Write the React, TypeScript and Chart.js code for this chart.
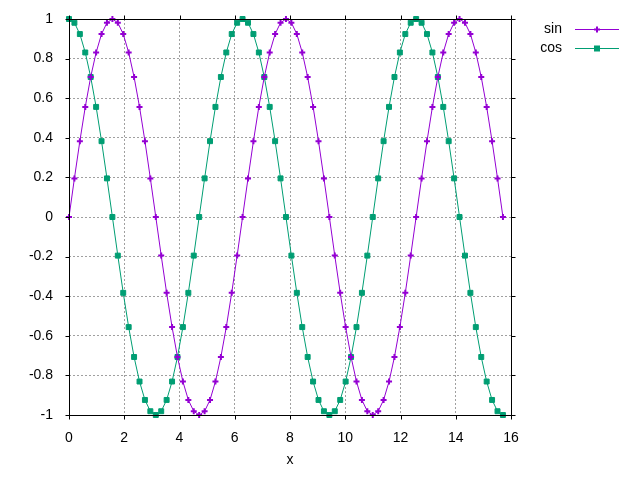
import React, { useEffect, useRef } from "react";
import { Chart, registerables } from "chart.js";

Chart.register(...registerables);

// x = k * pi/16, k = 0..80
const xValues = [
  0, 0.196, 0.393, 0.589, 0.785, 0.982, 1.178, 1.374, 1.571, 1.767,
  1.963, 2.16, 2.356, 2.553, 2.749, 2.945, 3.142, 3.338, 3.534, 3.731,
  3.927, 4.123, 4.32, 4.516, 4.712, 4.909, 5.105, 5.301, 5.498, 5.694,
  5.89, 6.087, 6.283, 6.48, 6.676, 6.872, 7.069, 7.265, 7.461, 7.658,
  7.854, 8.05, 8.247, 8.443, 8.639, 8.836, 9.032, 9.228, 9.425, 9.621,
  9.817, 10.014, 10.21, 10.407, 10.603, 10.799, 10.996, 11.192, 11.388, 11.585,
  11.781, 11.977, 12.174, 12.37, 12.566, 12.763, 12.959, 13.155, 13.352, 13.548,
  13.744, 13.941, 14.137, 14.334, 14.53, 14.726, 14.923, 15.119, 15.315, 15.512,
  15.708,
];

const sinValues = [
  0, 0.195, 0.383, 0.556, 0.707, 0.831, 0.924, 0.981, 1, 0.981,
  0.924, 0.831, 0.707, 0.556, 0.383, 0.195, 0, -0.195, -0.383, -0.556,
  -0.707, -0.831, -0.924, -0.981, -1, -0.981, -0.924, -0.831, -0.707, -0.556,
  -0.383, -0.195, 0, 0.195, 0.383, 0.556, 0.707, 0.831, 0.924, 0.981,
  1, 0.981, 0.924, 0.831, 0.707, 0.556, 0.383, 0.195, 0, -0.195,
  -0.383, -0.556, -0.707, -0.831, -0.924, -0.981, -1, -0.981, -0.924, -0.831,
  -0.707, -0.556, -0.383, -0.195, 0, 0.195, 0.383, 0.556, 0.707, 0.831,
  0.924, 0.981, 1, 0.981, 0.924, 0.831, 0.707, 0.556, 0.383, 0.195,
  0,
];

const cosValues = [
  1, 0.981, 0.924, 0.831, 0.707, 0.556, 0.383, 0.195, 0, -0.195,
  -0.383, -0.556, -0.707, -0.831, -0.924, -0.981, -1, -0.981, -0.924, -0.831,
  -0.707, -0.556, -0.383, -0.195, 0, 0.195, 0.383, 0.556, 0.707, 0.831,
  0.924, 0.981, 1, 0.981, 0.924, 0.831, 0.707, 0.556, 0.383, 0.195,
  0, -0.195, -0.383, -0.556, -0.707, -0.831, -0.924, -0.981, -1, -0.981,
  -0.924, -0.831, -0.707, -0.556, -0.383, -0.195, 0, 0.195, 0.383, 0.556,
  0.707, 0.831, 0.924, 0.981, 1, 0.981, 0.924, 0.831, 0.707, 0.556,
  0.383, 0.195, 0, -0.195, -0.383, -0.556, -0.707, -0.831, -0.924, -0.981,
  -1,
];

const seriesNames = ["sin", "cos"];
const seriesColors = ["#9400d3", "#009e73"];
const xAxisLabel = "x";
const xRange = [0, 16];
const yRange = [-1, 1];
const xStep = 2;
const yStep = 0.2;

const FONT = "'Liberation Sans', Arial, sans-serif";
const FONT_SIZE = 14;

const framePlugin = {
  id: "gnuplotFrame",
  afterDraw(chart: any) {
    const ctx = chart.ctx as CanvasRenderingContext2D;
    const a = chart.chartArea;
    const xs = chart.scales.x;
    const ys = chart.scales.y;
    ctx.save();
    ctx.strokeStyle = "#000";
    ctx.lineWidth = 1;
    ctx.setLineDash([]);
    ctx.strokeRect(a.left + 0.5, a.top + 0.5, a.right - a.left, a.bottom - a.top);
    const T = 4;
    ctx.beginPath();
    xs.ticks.forEach((t: any) => {
      const px = Math.round(xs.getPixelForValue(t.value)) + 0.5;
      ctx.moveTo(px, a.bottom + 0.5);
      ctx.lineTo(px, a.bottom + 0.5 + T);
      ctx.moveTo(px, a.top + 0.5);
      ctx.lineTo(px, a.top + 0.5 - T);
    });
    ys.ticks.forEach((t: any) => {
      const py = Math.round(ys.getPixelForValue(t.value)) + 0.5;
      ctx.moveTo(a.left + 0.5, py);
      ctx.lineTo(a.left + 0.5 - T, py);
      ctx.moveTo(a.right + 0.5, py);
      ctx.lineTo(a.right + 0.5 + T, py);
    });
    ctx.stroke();

    // x axis label
    ctx.fillStyle = "#000";
    ctx.font = `${FONT_SIZE}px ${FONT}`;
    ctx.textAlign = "center";
    ctx.textBaseline = "alphabetic";
    ctx.fillText(xAxisLabel, (a.left + a.right) / 2, 464);

    // legend
    const rows = [29, 48];
    seriesNames.forEach((name, i) => {
      const y = rows[i];
      ctx.fillStyle = "#000";
      ctx.textAlign = "right";
      ctx.textBaseline = "middle";
      ctx.fillText(name, 562, y);
      ctx.strokeStyle = seriesColors[i];
      ctx.lineWidth = 1;
      ctx.beginPath();
      ctx.moveTo(575, y + 0.5);
      ctx.lineTo(619, y + 0.5);
      ctx.stroke();
      ctx.fillStyle = seriesColors[i];
      const cx = 597;
      if (i === 0) {
        ctx.lineWidth = 2;
        ctx.beginPath();
        ctx.moveTo(cx - 3, y + 0.5);
        ctx.lineTo(cx + 3, y + 0.5);
        ctx.moveTo(cx, y - 2.5);
        ctx.lineTo(cx, y + 3.5);
        ctx.stroke();
      } else {
        ctx.fillRect(cx - 3, y - 2.5, 6, 6);
      }
    });
    ctx.restore();
  },
};

export default function App() {
  const ref = useRef<HTMLCanvasElement | null>(null);

  useEffect(() => {
    if (!ref.current) return;
    const sinData = xValues.map((x, i) => ({ x, y: sinValues[i] }));
    const cosData = xValues.map((x, i) => ({ x, y: cosValues[i] }));
    const chart = new Chart(ref.current, {
      type: "scatter",
      data: {
        datasets: [
          {
            label: seriesNames[0],
            data: sinData,
            showLine: true,
            clip: false,
            borderColor: seriesColors[0],
            backgroundColor: seriesColors[0],
            borderWidth: 1,
            pointStyle: "cross",
            pointRadius: 3,
            pointBorderWidth: 2,
            pointBorderColor: seriesColors[0],
          },
          {
            label: seriesNames[1],
            data: cosData,
            showLine: true,
            clip: false,
            borderColor: seriesColors[1],
            backgroundColor: seriesColors[1],
            borderWidth: 1,
            pointStyle: "rect",
            pointRadius: 3.5,
            pointBorderWidth: 1,
            pointBorderColor: seriesColors[1],
          },
        ],
      },
      options: {
        animation: false,
        responsive: false,
        devicePixelRatio: 1,
        layout: { padding: { top: 19, right: 129, left: 0, bottom: 0 } },
        plugins: {
          legend: { display: false },
          tooltip: { enabled: false },
        },
        scales: {
          x: {
            type: "linear",
            min: xRange[0],
            max: xRange[1],
            afterFit: (s: any) => {
              s.height = 65;
            },
            ticks: {
              stepSize: xStep,
              color: "#000",
              padding: 0,
              font: { family: FONT, size: FONT_SIZE },
              maxRotation: 0,
            },
            grid: {
              color: "#a0a0a0",
              lineWidth: 1,
              drawTicks: true,
              tickLength: 15,
              tickColor: "rgba(0,0,0,0)",
            },
            border: { display: false, dash: [2, 2] },
          },
          y: {
            type: "linear",
            min: yRange[0],
            max: yRange[1],
            afterFit: (s: any) => {
              s.width = 69;
            },
            ticks: {
              stepSize: yStep,
              color: "#000",
              padding: 0,
              font: { family: FONT, size: FONT_SIZE },
              callback: (v: any) => String(Math.round(Number(v) * 10) / 10),
            },
            grid: {
              color: "#a0a0a0",
              lineWidth: 1,
              drawTicks: true,
              tickLength: 16,
              tickColor: "rgba(0,0,0,0)",
            },
            border: { display: false, dash: [2, 2] },
          },
        },
      },
      plugins: [framePlugin],
    });
    return () => chart.destroy();
  }, []);

  return (
    <div style={{ position: "absolute", left: 0, top: 0, width: 640, height: 480, background: "#fff" }}>
      <canvas ref={ref} width={640} height={480} style={{ width: 640, height: 480 }} />
    </div>
  );
}
